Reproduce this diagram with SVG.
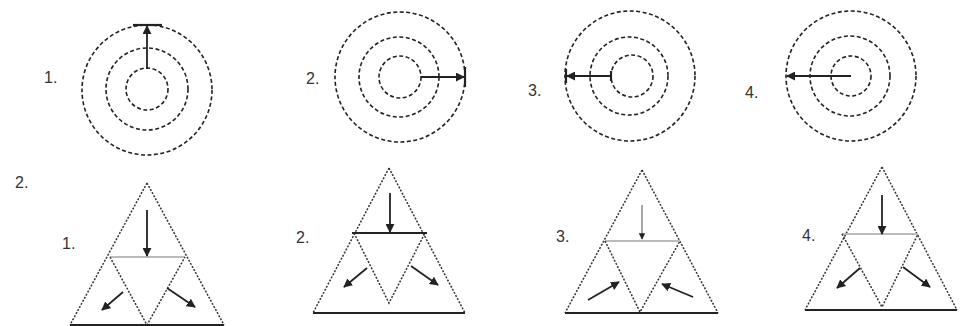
<svg xmlns="http://www.w3.org/2000/svg" width="971" height="326" viewBox="0 0 971 326">
<style>
.d{fill:none;stroke:#222;stroke-width:1.6;stroke-dasharray:4 2.5}
.t{fill:none;stroke:#333;stroke-width:1.5;stroke-dasharray:2 1.5}
.s{stroke:#222;stroke-width:2.2;fill:none}
.g{stroke:#bbb;stroke-width:2;fill:none}
.a{stroke:#222;stroke-width:1.8;fill:none;marker-end:url(#ah)}
.al{stroke:#777;stroke-width:1.3;fill:none;marker-end:url(#ah)}
.lb{font-family:"Liberation Sans",Arial,sans-serif;font-size:16px;fill:#333}
</style>
<defs>
<marker id="ah" viewBox="0 0 10 10" refX="9" refY="5" markerWidth="5" markerHeight="5" orient="auto" markerUnits="strokeWidth">
<path d="M0,0 L10,5 L0,10 z" fill="#222"/>
</marker>
</defs>
<rect width="971" height="326" fill="#fff"/>
<g id="circle1">
<circle class="d" cx="147" cy="90" r="65"/>
<circle class="d" cx="147" cy="89" r="41"/>
<circle class="d" cx="147" cy="89" r="21"/>
<line class="s" x1="133" y1="25" x2="162" y2="25"/>
<text class="lb" x="44" y="83">1.</text>
</g>
<g id="circle2">
<circle class="d" cx="400" cy="77" r="65"/>
<circle class="d" cx="399" cy="77" r="40"/>
<circle class="d" cx="400" cy="77" r="21"/>
<line class="s" x1="465" y1="67" x2="465" y2="87"/>
<text class="lb" x="306" y="84">2.</text>
</g>
<g id="circle3">
<circle class="d" cx="630" cy="76" r="65"/>
<circle class="d" cx="629" cy="76" r="39"/>
<circle class="d" cx="632" cy="76" r="21"/>
<line class="s" x1="566" y1="69" x2="566" y2="83"/>
<line class="s" x1="611" y1="71" x2="611" y2="81"/>
<text class="lb" x="528" y="96">3.</text>
</g>
<g id="circle4">
<circle class="d" cx="851" cy="76" r="65"/>
<circle class="d" cx="850" cy="76" r="40"/>
<circle class="d" cx="851" cy="76" r="20"/>
<text class="lb" x="745" y="98">4.</text>
</g>
<text class="lb" x="15" y="188">2.</text>
<g id="triangle1">
<path class="t" d="M147,183 L70,325 M147,183 L224,325"/>
<line class="g" x1="110" y1="257" x2="185" y2="257"/>
<path class="t" d="M110,257 L147,325 L185,257"/>
<line class="s" x1="70" y1="325" x2="224" y2="325"/>
<text class="lb" x="62" y="249">1.</text>
</g>
<g id="triangle2">
<path class="t" d="M389,168 L313,313 M389,168 L465,313"/>
<line class="s" x1="352" y1="233" x2="427" y2="233"/>
<path class="t" d="M354,233 L389,303 L425,233"/>
<line class="s" x1="313" y1="313" x2="465" y2="313"/>
<text class="lb" x="296" y="243">2.</text>
</g>
<g id="triangle3">
<path class="t" d="M642,170 L565,313 M642,170 L718,313"/>
<line class="g" x1="605" y1="241" x2="680" y2="241"/>
<path class="t" d="M605,241 L640,312 L680,241"/>
<line class="s" x1="565" y1="313" x2="718" y2="313"/>
<text class="lb" x="556" y="242">3.</text>
</g>
<g id="triangle4">
<path class="t" d="M882,167 L805,310 M882,167 L957,310"/>
<line class="g" x1="842" y1="234" x2="918" y2="234"/>
<path class="t" d="M842,234 L882,307 L918,234"/>
<line class="s" x1="805" y1="310" x2="957" y2="310"/>
<text class="lb" x="802" y="241">4.</text>
</g>
<g id="connectors">
<line class="a" x1="147" y1="69" x2="147" y2="26"/>
<line class="a" x1="421" y1="77" x2="464" y2="77"/>
<line class="a" x1="611" y1="76" x2="567" y2="76"/>
<line class="a" x1="851" y1="76" x2="787" y2="76"/>
<line class="a" x1="147" y1="210" x2="147" y2="256"/>
<line class="a" x1="123" y1="292" x2="102" y2="310"/>
<line class="a" x1="167" y1="288" x2="195" y2="307"/>
<line class="a" x1="390" y1="193" x2="390" y2="232"/>
<line class="a" x1="367" y1="268" x2="344" y2="287"/>
<line class="a" x1="411" y1="266" x2="438" y2="285"/>
<line class="al" x1="642" y1="205" x2="642" y2="239"/>
<line class="a" x1="588" y1="300" x2="619" y2="282"/>
<line class="a" x1="693" y1="297" x2="662" y2="284"/>
<line class="a" x1="882" y1="195" x2="882" y2="234"/>
<line class="a" x1="860" y1="268" x2="837" y2="288"/>
<line class="a" x1="903" y1="267" x2="930" y2="287"/>
</g>
</svg>
